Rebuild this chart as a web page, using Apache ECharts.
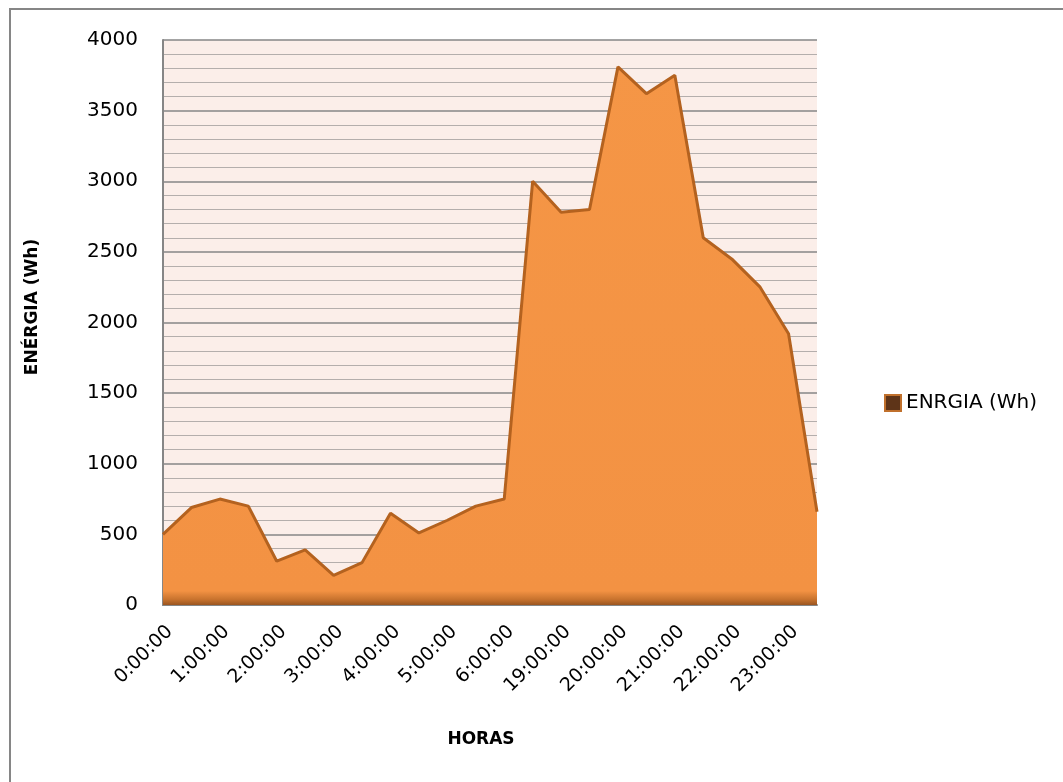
<!DOCTYPE html>
<html>
<head>
<meta charset="utf-8">
<title>ENÉRGIA (Wh)</title>
<script src="https://cdn.jsdelivr.net/npm/echarts@6/dist/echarts.min.js"></script>
<style>
  html, body { margin: 0; padding: 0; background: #ffffff; }
  #chart { width: 1063px; height: 782px; }
</style>
</head>
<body>
<div id="chart"></div>
<script>
// Half-hour readings (night hours only)
const horas = [
  '0:00:00', '0:30:00', '1:00:00', '1:30:00', '2:00:00', '2:30:00',
  '3:00:00', '3:30:00', '4:00:00', '4:30:00', '5:00:00', '5:30:00',
  '6:00:00', '18:30:00', '19:00:00', '19:30:00', '20:00:00', '20:30:00',
  '21:00:00', '21:30:00', '22:00:00', '22:30:00', '23:00:00', '23:30:00'
];
const energia = [
  500, 690, 750, 700, 310, 390,
  210, 300, 650, 510, 600, 700,
  750, 3000, 2780, 2800, 3810, 3620,
  3750, 2600, 2450, 2250, 1920, 660
];
const seriesName = 'ENRGIA (Wh)';
const yTitle = 'ENÉRGIA (Wh)';
const xTitle = 'HORAS';

const FONT = 'DejaVu Sans';
const chart = echarts.init(document.getElementById('chart'), null, { renderer: 'canvas' });

// orange fill that darkens into a bevel along the bottom edge of the plot
const areaFill = new echarts.graphic.LinearGradient(0, 40, 0, 605, [
  { offset: 0, color: '#F59646' },
  { offset: 0.975, color: '#F39243' },
  { offset: 0.99, color: '#C8732E' },
  { offset: 1, color: '#9A5520' }
], true);

chart.setOption({
  backgroundColor: '#ffffff',
  animation: false,
  textStyle: { fontFamily: FONT },
  grid: {
    left: 163, top: 40, right: 246, bottom: 177,
    show: true, backgroundColor: '#FBEEE9', borderWidth: 0
  },
  legend: {
    left: 879, top: 388,
    orient: 'vertical',
    icon: 'rect',
    itemWidth: 16, itemHeight: 16, itemGap: 8,
    textStyle: { fontFamily: FONT, fontSize: 20, color: '#000000' },
    data: [{
      name: seriesName,
      itemStyle: { color: '#5E3418', borderColor: '#C0702C', borderWidth: 2 }
    }]
  },
  xAxis: {
    type: 'category',
    data: horas,
    boundaryGap: false,
    axisLine: { show: true, lineStyle: { color: '#868686', width: 2 } },
    axisTick: { show: false },
    axisLabel: {
      interval: 1, rotate: 45, margin: 17,
      verticalAlign: 'top',
      fontFamily: FONT, fontSize: 19, color: '#000000'
    },
    splitLine: { show: false }
  },
  yAxis: {
    type: 'value',
    min: 0, max: 4000, interval: 500,
    axisLine: { show: true, lineStyle: { color: '#868686', width: 2 } },
    axisTick: { show: false },
    axisLabel: {
      margin: 25, fontFamily: FONT, fontSize: 20, color: '#000000',
      formatter: v => String(v)
    },
    splitLine: { show: true, lineStyle: { color: '#868686', width: 1.5 } },
    minorTick: { show: false, splitNumber: 5 },
    minorSplitLine: { show: true, lineStyle: { color: '#B4AEAC', width: 1 } }
  },
  series: [{
    name: seriesName,
    type: 'line',
    data: energia,
    symbol: 'none',
    lineStyle: { color: '#B4621F', width: 3 },
    itemStyle: { color: '#5E3418' },
    areaStyle: { color: areaFill, opacity: 1 },
    z: 3
  }],
  graphic: [
    {
      type: 'line', silent: true,
      shape: { x1: 9, y1: 9, x2: 1063, y2: 9 },
      style: { stroke: '#868686', lineWidth: 2 }
    },
    {
      type: 'line', silent: true,
      shape: { x1: 10, y1: 8, x2: 10, y2: 782 },
      style: { stroke: '#868686', lineWidth: 2 }
    },
    {
      type: 'text', x: 33, y: 307, rotation: Math.PI / 2,
      style: {
        text: yTitle, fontFamily: FONT, fontSize: 17, fontWeight: 'bold',
        fill: '#000000', align: 'center', verticalAlign: 'middle'
      }
    },
    {
      type: 'text', x: 481, y: 740,
      style: {
        text: xTitle, fontFamily: FONT, fontSize: 17, fontWeight: 'bold',
        fill: '#000000', align: 'center', verticalAlign: 'middle'
      }
    }
  ]
});
</script>
</body>
</html>
